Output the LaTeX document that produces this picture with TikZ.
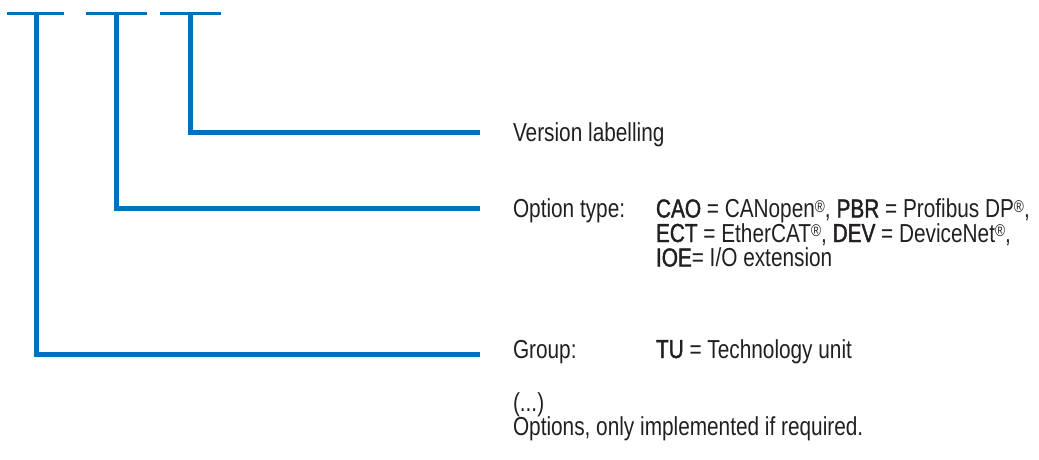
\documentclass[tikz,border=0pt]{standalone}
\usepackage{fontspec}
\setmainfont{Liberation Sans}[FakeStretch=0.8]
\newfontfamily\keyfont{Liberation Sans}[FakeStretch=0.8, FakeBold=1.5]
% abbreviations in medium weight
\newcommand{\kw}[1]{{\keyfont #1}}
% raised registered mark
\newcommand{\regm}{\raisebox{5.5pt}{\fontsize{17}{17}\selectfont\textregistered}}
\begin{document}
\begin{tikzpicture}[x=1pt,y=-1pt,
  every node/.style={inner sep=0pt, outer sep=0pt, anchor=base west,
    text=txtgray, font=\fontsize{26}{24.5}\selectfont},
  bar/.style={draw=codeblue, line width=2.5pt},
  leader/.style={draw=codeblue, line width=5pt, line join=miter}]
\definecolor{codeblue}{RGB}{0,114,188}
\definecolor{txtgray}{RGB}{35,31,32}
\useasboundingbox (0,0) rectangle (1039,459);

% top bars of the code positions
\coordinate (b1l) at (7,13.5);   \coordinate (b1r) at (64,13.5);
\coordinate (b2l) at (86,13.5);  \coordinate (b2r) at (147,13.5);
\coordinate (b3l) at (160,13.5); \coordinate (b3r) at (221,13.5);
\draw[bar] (b1l) -- (b1r);
\draw[bar] (b2l) -- (b2r);
\draw[bar] (b3l) -- (b3r);

% tops of the leader lines
\coordinate (t1) at (36,13.5);
\coordinate (t2) at (116.5,13.5);
\coordinate (t3) at (190.5,13.5);
% ends of the leader lines
\coordinate (e3) at (480,132);
\coordinate (e2) at (480,208.5);
\coordinate (e1) at (480,354);

\draw[leader] (t3) |- (e3);
\draw[leader] (t2) |- (e2);
\draw[leader] (t1) |- (e1);

% texts
\node (ver) at (513,141) {Version labelling};
\node (optl) at (513,217.5) {Option type:};
\node (opt1) at (656,217.5) {\kw{CAO} = CANopen\regm, \kw{PBR} = Profibus DP\regm,};
\node (opt2) at (656,242) {\kw{ECT} = EtherCAT\regm, \kw{DEV} = DeviceNet\regm,};
\node (opt3) at (656,266.5) {\kw{IOE}= I/O extension};
\node (grpl) at (513,358) {Group:};
\node (grp) at (656,358) {\kw{TU} = Technology unit};
\node (dots) at (513,411) {(...)};
\node (note) at (513,435.5) {Options, only implemented if required.};
\end{tikzpicture}
\end{document}
